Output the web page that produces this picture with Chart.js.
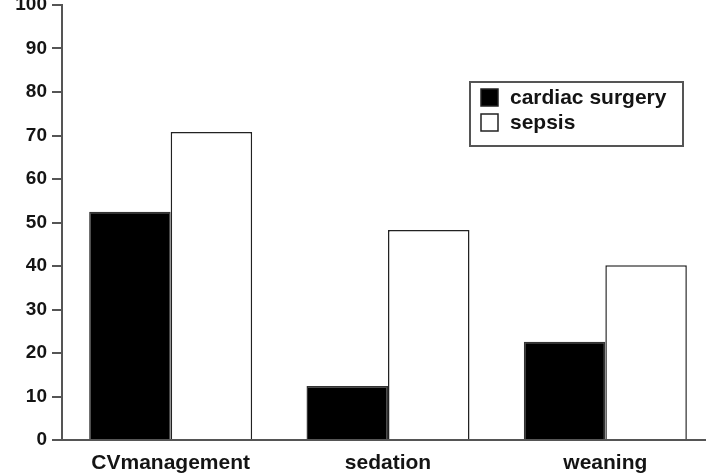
<!DOCTYPE html>
<html>
<head>
<meta charset="utf-8">
<script src="https://cdn.jsdelivr.net/npm/chart.js@4"></script>
<style>
    html, body { margin: 0; padding: 0; background: #fff; overflow: hidden; }
    #wrap { width: 706px; height: 476px; overflow: hidden; position: relative; }
    #grafico { position: absolute; left: 0; top: 0; }
</style>
</head>
<body>
<div id="wrap"><canvas id="grafico" width="720" height="476"></canvas></div>
<script>
// Dados do gráfico
const categorias = ['CVmanagement', 'sedation', 'weaning'];
const nomesSeries = ['cardiac surgery', 'sepsis'];
const cirurgiaCardiaca = [52.5, 12.4, 22.6];
const sepse = [70.8, 48.3, 40.2];
const ticksY = [0, 10, 20, 30, 40, 50, 60, 70, 80, 90, 100];

const corTexto = '#141414';
const corEixo = '#555';
const fonte = 'Liberation Sans, Arial, Helvetica, sans-serif';

// Legenda desenhada dentro da área do gráfico, com caixa
const legendaCaixa = {
    id: 'legendaCaixa',
    afterDraw(chart) {
        const ctx = chart.ctx;
        ctx.save();
        ctx.strokeStyle = corEixo;
        ctx.lineWidth = 2;
        ctx.strokeRect(470, 82, 213, 64);
        ctx.font = 'bold 21px ' + fonte;
        ctx.textBaseline = 'middle';
        chart.data.datasets.forEach(function(ds, i) {
            const y = 97 + i * 25;
            ctx.fillStyle = ds.backgroundColor;
            ctx.fillRect(481, y - 8, 17, 17);
            ctx.lineWidth = 1.5;
            ctx.strokeStyle = '#222';
            ctx.strokeRect(481, y - 8, 17, 17);
            ctx.fillStyle = corTexto;
            ctx.fillText(ds.label, 510, y + 1);
        });
        ctx.restore();
    }
};

new Chart(document.getElementById('grafico').getContext('2d'), {
    type: 'bar',
    data: {
        labels: categorias,
        datasets: [
            {
                label: nomesSeries[0],
                data: cirurgiaCardiaca,
                backgroundColor: '#000',
                borderColor: '#333',
                borderWidth: 1.5
            },
            {
                label: nomesSeries[1],
                data: sepse,
                backgroundColor: '#fff',
                borderColor: '#222',
                borderWidth: 1.5
            }
        ]
    },
    options: {
        responsive: false,
        animation: false,
        layout: { padding: { top: 0, right: 6, left: 0, bottom: 0 } },
        plugins: {
            legend: { display: false },
            tooltip: { enabled: false }
        },
        datasets: {
            bar: { categoryPercentage: 0.75, barPercentage: 1.0 }
        },
        scales: {
            x: {
                grid: { display: true, drawOnChartArea: false, drawTicks: false },
                border: { display: true, color: corEixo, width: 2 },
                ticks: {
                    color: corTexto,
                    padding: 11,
                    font: { family: fonte, size: 21, weight: 'bold' }
                },
                afterFit: function(escala) { escala.height = 36; }
            },
            y: {
                min: 0,
                max: 100,
                afterBuildTicks: function(escala) {
                    escala.ticks = ticksY.map(v => ({ value: v }));
                },
                grid: {
                    drawOnChartArea: false,
                    drawTicks: true,
                    tickLength: 10,
                    tickColor: corEixo,
                    lineWidth: 2
                },
                border: { display: true, color: corEixo, width: 2 },
                ticks: {
                    color: corTexto,
                    padding: 5,
                    font: { family: fonte, size: 19, weight: 'bold' }
                },
                afterFit: function(escala) {
                    escala.width = 62;
                    escala.paddingTop = 5;
                }
            }
        }
    },
    plugins: [legendaCaixa]
});
</script>
</body>
</html>
